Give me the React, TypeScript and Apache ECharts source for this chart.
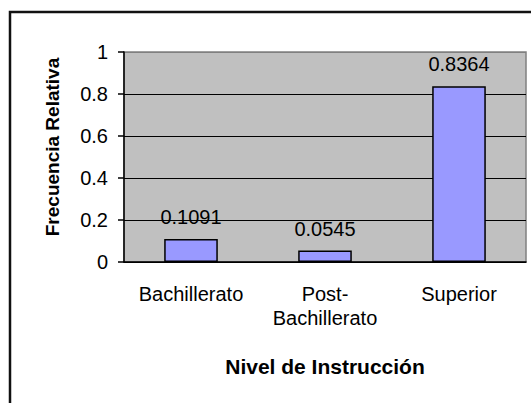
import React, { useEffect, useRef } from "react";
import * as echarts from "echarts";

const categories = ["Bachillerato", "Post-Bachillerato", "Superior"];
const frecuencias = [0.1091, 0.0545, 0.8364];
const yTitle = "Frecuencia Relativa";
const xTitle = "Nivel de Instrucción";

const FONT = "'Liberation Sans', Arial, Helvetica, sans-serif";

export default function App() {
  const ref = useRef<HTMLDivElement>(null);
  useEffect(() => {
    if (!ref.current) return;
    const chart = echarts.init(ref.current, undefined, { renderer: "svg" });
    chart.setOption({
      animation: false,
      backgroundColor: "#ffffff",
      textStyle: { fontFamily: FONT },
      graphic: [
        {
          type: "rect",
          shape: { x: 10, y: 12, width: 600, height: 500 },
          style: { fill: "none", stroke: "#111", lineWidth: 2.5 },
          silent: true,
          z: 100,
        },
        {
          type: "text",
          x: 52,
          y: 147,
          rotation: Math.PI / 2,
          style: {
            text: yTitle,
            fontFamily: FONT,
            fontSize: 19,
            fontWeight: "bold",
            fill: "#000",
            textAlign: "center",
            textVerticalAlign: "middle",
          },
        },
      ],
      grid: {
        left: 124,
        top: 52,
        right: 5,
        bottom: 141,
        show: true,
        backgroundColor: "#C0C0C0",
        borderColor: "#808080",
        borderWidth: 1.5,
      },
      xAxis: {
        type: "category",
        data: categories,
        name: xTitle,
        nameLocation: "middle",
        nameGap: 94,
        nameTextStyle: { fontFamily: FONT, fontSize: 21, fontWeight: "bold", color: "#000" },
        axisLine: { lineStyle: { color: "#000", width: 1.5 } },
        axisTick: { length: 7, lineStyle: { color: "#000", width: 1.5 } },
        axisLabel: {
          interval: 0,
          hideOverlap: false,
          fontFamily: FONT,
          fontSize: 20,
          color: "#000",
          margin: 20,
          lineHeight: 24,
          formatter: (v: string) => v.replace("-", "-\n"),
        },
        splitLine: { show: false },
      },
      yAxis: {
        type: "value",
        min: 0,
        max: 1,
        interval: 0.2,
        axisLine: { show: true, lineStyle: { color: "#000", width: 1.5 } },
        axisTick: { show: true, length: 6, lineStyle: { color: "#000", width: 1.5 } },
        axisLabel: { fontFamily: FONT, fontSize: 20, color: "#000", margin: 16 },
        splitLine: {
          show: true,
          lineStyle: { color: ["#000", "#000", "#000", "#000", "#000", "#808080"], width: 1.2 },
        },
      },
      series: [
        {
          type: "bar",
          data: frecuencias,
          barWidth: "40%",
          itemStyle: { color: "#9999FF", borderColor: "#000", borderWidth: 1.5 },
          label: {
            show: true,
            position: "top",
            distance: 12,
            fontFamily: FONT,
            fontSize: 20,
            color: "#000",
            formatter: (p: any) => String(p.value),
          },
        },
      ],
    });
    return () => chart.dispose();
  }, []);
  return (
    <div
      ref={ref}
      style={{ position: "fixed", left: 0, top: 0, width: 531, height: 403 }}
    />
  );
}
